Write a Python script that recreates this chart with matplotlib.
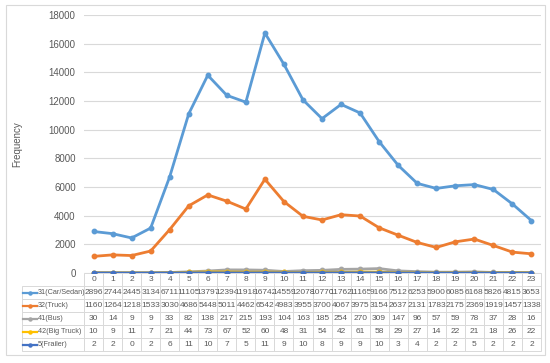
import matplotlib.pyplot as plt
from matplotlib.lines import Line2D
from matplotlib.patches import Rectangle

# Datos
horas = list(range(24))
car_sedan = [2896, 2744, 2445, 3134, 6711, 11105, 13797, 12394, 11918, 16742, 14559, 12078,
             10770, 11762, 11165, 9166, 7512, 6253, 5900, 6085, 6168, 5826, 4815, 3653]
truck = [1160, 1264, 1218, 1533, 3030, 4686, 5448, 5011, 4462, 6542, 4983, 3955,
         3700, 4067, 3975, 3154, 2637, 2131, 1783, 2175, 2369, 1919, 1457, 1338]
bus = [30, 14, 9, 9, 33, 82, 138, 217, 215, 193, 104, 163,
       185, 254, 270, 309, 147, 96, 57, 59, 78, 37, 28, 16]
big_truck = [10, 9, 11, 7, 21, 44, 73, 67, 52, 60, 48, 31,
             54, 42, 61, 58, 29, 27, 14, 22, 21, 18, 26, 22]
frailer = [2, 2, 0, 2, 6, 11, 10, 7, 5, 11, 9, 10,
           8, 9, 9, 10, 3, 4, 2, 2, 5, 2, 2, 2]

nombres = ["31(Car/Sedan)", "32(Truck)", "41(Bus)", "42(Big Truck)", "5(Frailer)"]
series = [car_sedan, truck, bus, big_truck, frailer]
colores = ["#5B9BD5", "#ED7D31", "#A5A5A5", "#FFC000", "#4472C4"]

GRIS = "#595959"
W, H = 550, 363

plt.rcParams["font.family"] = ["Liberation Sans", "DejaVu Sans"]

fig = plt.figure(figsize=(W / 100, H / 100), dpi=100)
fig.patches.append(Rectangle((6 / W, 8 / H), 539 / W, 350 / H, transform=fig.transFigure,
                             fill=False, edgecolor="#D9D9D9", linewidth=0.8))

x0, x1, ytop, ybot = 84, 541, 15, 273
ax = fig.add_axes([x0 / W, 1 - ybot / H, (x1 - x0) / W, (ybot - ytop) / H])

for nombre, vals, c in zip(nombres, series, colores):
    ax.plot(horas, vals, color=c, lw=2, marker="o", ms=3.2, label=nombre, zorder=3)

ax.set_xlim(-0.5, 23.5)
ax.set_ylim(0, 18000)
ax.set_yticks(range(0, 18001, 2000))
ax.set_xticks([])
ax.grid(True, axis="y", color="#D9D9D9", lw=0.8)
ax.set_axisbelow(True)
for s in ax.spines.values():
    s.set_visible(False)
ax.tick_params(axis="y", length=0, labelsize=7, labelcolor=GRIS, pad=6)
ax.set_ylabel("Frequency", fontsize=7, color=GRIS)
ax.yaxis.set_label_coords(-(x0 - 22) / (x1 - x0), 0.5)

# Tabla de datos
ancho_px = x1 - x0
alto_px = ybot - ytop
lab_px = 62
celdas = [[""] + [str(h) for h in horas]]
for vals in series:
    celdas.append([""] + [str(v) for v in vals])
anchos = [lab_px] + [ancho_px / 24] * 24
total = sum(anchos)
tabla = ax.table(cellText=celdas, colWidths=[a / total for a in anchos], cellLoc="center",
                 bbox=[-lab_px / ancho_px, -78 / alto_px, (ancho_px + lab_px) / ancho_px, 78 / alto_px])
tabla.auto_set_font_size(False)
tabla.set_fontsize(6)
for (r, c), cell in tabla.get_celld().items():
    cell.set_edgecolor("#D9D9D9")
    cell.set_linewidth(0.7)
    cell.get_text().set_color(GRIS)
    cell.PAD = 0.02
tabla[0, 0].visible_edges = ""

fila_h = 78 / 6 / alto_px
for i, (nombre, c) in enumerate(zip(nombres, colores)):
    yc = -(i + 1.5) * fila_h
    xa = -(lab_px - 1) / ancho_px
    xb = -(lab_px - 15) / ancho_px
    ax.add_line(Line2D([xa, xb], [yc, yc], color=c, lw=1.6,
                       transform=ax.transAxes, clip_on=False))
    ax.add_line(Line2D([(xa + xb) / 2], [yc], color=c, marker="o", ms=2.2,
                       transform=ax.transAxes, clip_on=False))
    ax.text(xb + 1 / ancho_px, yc, nombre, transform=ax.transAxes, fontsize=5.2,
            color=GRIS, va="center", ha="left")

fig.savefig("out.png", dpi=100)
